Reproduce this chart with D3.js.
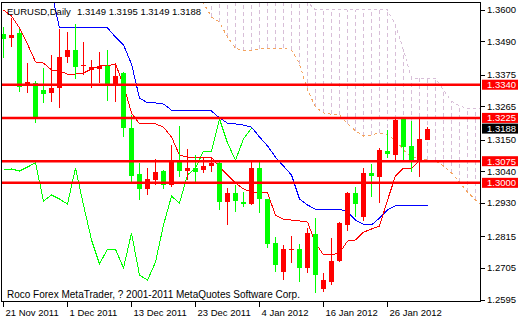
<!DOCTYPE html>
<html>
<head>
<meta charset="utf-8">
<script src="https://cdn.jsdelivr.net/npm/d3@7"></script>
<style>
  body { margin: 0; background: #fff; }
  svg { display: block; font-family: "Liberation Sans", Arial, sans-serif; }
</style>
</head>
<body>
<svg id="chart" width="520" height="320"></svg>
<script>
// EURUSD daily bars, 21 Nov 2011 .. 27 Jan 2012 (index 0 = 21 Nov)
const opens  = [1.3516,1.3502,1.3519,1.3339,1.3346,1.3322,1.3311,1.3329,1.3436,1.3460,
                1.3405,1.3391,1.3394,1.3405,1.3342,1.3381,1.3190,1.3031,1.2979,1.3010,
                1.3041,1.2992,1.3076,1.3041,1.3051,1.3044,1.3058,1.3069,1.2933,1.2965,
                1.2933,1.2926,1.3051,1.2944,1.2791,1.2691,1.2767,1.2770,1.2705,1.2823,
                1.2632,1.2656,1.2729,1.2854,1.2965,1.2881,1.3034,1.3020,1.3110,1.3096,
                1.3225,1.3128,1.3079,1.3149];
const highs  = [1.3540,1.3571,1.3533,1.3415,1.3353,1.3398,1.3443,1.3533,1.3523,1.3550,
                1.3488,1.3426,1.3453,1.3460,1.3415,1.3384,1.3235,1.3069,1.3051,1.3083,
                1.3044,1.3131,1.3197,1.3117,1.3096,1.3086,1.3086,1.3072,1.2982,1.2992,
                1.2968,1.3076,1.3072,1.2944,1.2812,1.2784,1.2816,1.2788,1.2843,1.2878,
                1.2687,1.2809,1.2864,1.2968,1.2985,1.3051,1.3065,1.3121,1.3183,1.3221,
                1.3228,1.3214,1.3221,1.3195];
const lows   = [1.3433,1.3471,1.3315,1.3311,1.3207,1.3277,1.3280,1.3259,1.3415,1.3360,
                1.3374,1.3329,1.3346,1.3283,1.3280,1.3159,1.3003,1.2940,1.2958,1.2992,
                1.2979,1.2985,1.3020,1.3010,1.3003,1.3034,1.3037,1.2906,1.2854,1.2899,
                1.2916,1.2923,1.2895,1.2774,1.2691,1.2663,1.2722,1.2656,1.2687,1.2618,
                1.2622,1.2646,1.2725,1.2833,1.2881,1.2868,1.2951,1.2930,1.3086,1.3079,
                1.3072,1.3037,1.3020,1.3149];
const closes = [1.3498,1.3512,1.3332,1.3349,1.3228,1.3308,1.3329,1.3436,1.3460,1.3401,
                1.3408,1.3401,1.3405,1.3336,1.3370,1.3190,1.3024,1.2979,1.3013,1.3037,
                1.2992,1.3076,1.3041,1.3051,1.3037,1.3058,1.3069,1.2933,1.2965,1.2937,
                1.2926,1.3051,1.2944,1.2788,1.2715,1.2770,1.2770,1.2705,1.2826,1.2680,
                1.2663,1.2729,1.2861,1.2965,1.2926,1.3034,1.3024,1.3114,1.3100,1.3218,
                1.3124,1.3072,1.3152,1.3188];

// Ichimoku lines
const tenkan = [1.3599,1.3578,1.3537,1.3481,1.3419,1.3415,1.3391,1.3388,1.3377,1.3377,
                1.3381,1.3394,1.3405,1.3405,1.3412,1.3339,1.3242,1.3204,1.3204,1.3204,
                1.3193,1.3159,1.3096,1.3089,1.3089,1.3089,1.3089,1.3055,1.3027,1.2999,
                1.2979,1.2968,1.2965,1.2965,1.2888,1.2874,1.2871,1.2868,1.2864,1.2791,
                1.2750,1.2750,1.2757,1.2798,1.2802,1.2829,1.2840,1.2850,1.2940,1.3024,
                1.3051,1.3051,1.3076,1.3079];
const kijun  = [1.3661,1.3661,1.3661,1.3661,1.3661,1.3661,1.3661,1.3537,1.3537,1.3537,
                1.3537,1.3537,1.3537,1.3537,1.3505,1.3478,1.3412,1.3294,1.3277,1.3277,
                1.3273,1.3252,1.3249,1.3249,1.3249,1.3249,1.3249,1.3225,1.3207,1.3204,
                1.3200,1.3193,1.3159,1.3128,1.3089,1.3058,1.3027,1.2944,1.2923,1.2909,
                1.2909,1.2909,1.2909,1.2899,1.2871,1.2857,1.2854,1.2878,1.2906,1.2920,
                1.2923,1.2923,1.2923,1.2923];
const chikou = [1.3044,1.3048,1.3041,1.3055,1.3069,1.2937,1.2958,1.2944,1.2926,1.3051,
                1.2923,1.2802,1.2719,1.2770,1.2770,1.2705,1.2826,1.2680,1.2663,1.2725,
                1.2854,1.2954,1.2930,1.3027,1.3051,1.3110,1.3110,1.3221,1.3138,1.3079,
                1.3152,1.3190];
// cloud, starts at bar 24 and runs past the right edge
const cloud_start = 24;
const spanA = [1.3686,1.3623,1.3575,1.3557,1.3505,1.3467,1.3457,1.3457,1.3464,1.3467,
               1.3467,1.3467,1.3460,1.3412,1.3322,1.3263,1.3242,1.3238,1.3235,1.3204,
               1.3180,1.3162,1.3166,1.3173,1.3166,1.3148,1.3114,1.3089,1.3083,1.3079,
               1.3076,1.3058,1.3034,1.3003,1.2968,1.2940,1.2916];
const spanB = [1.3700,1.3700,1.3700,1.3700,1.3700,1.3700,1.3700,1.3700,1.3700,1.3700,
               1.3700,1.3700,1.3700,1.3668,1.3627,1.3599,1.3599,1.3599,1.3599,1.3599,
               1.3599,1.3599,1.3599,1.3599,1.3599,1.3547,1.3460,1.3363,1.3363,1.3363,
               1.3363,1.3322,1.3283,1.3266,1.3259,1.3259,1.3259];

const levels = [1.3340, 1.3225, 1.3075, 1.3000];
const last_price = 1.3188;
const y_ticks = [1.3600, 1.3490, 1.3375, 1.3265, 1.3150, 1.3040, 1.2930, 1.2815, 1.2705, 1.2595];
const date_ticks = [0, 8, 16, 24, 32, 40, 48];
const date_labels = ["21 Nov 2011", "1 Dec 2011", "13 Dec 2011", "23 Dec 2011",
                     "4 Jan 2012", "16 Jan 2012", "26 Jan 2012"];

const svg = d3.select("#chart");
const plot_l = 2, plot_t = 3, plot_r = 481, plot_b = 302;

const x = d3.scaleLinear().domain([0, 60]).range([3.5, 483.5]);
const y = d3.scaleLinear().domain([1.2595, 1.3600]).range([299.7, 9.7]);

svg.append("defs").append("clipPath").attr("id", "plot")
  .append("rect").attr("x", plot_l).attr("y", plot_t)
  .attr("width", plot_r - plot_l).attr("height", plot_b - plot_t);

const plot = svg.append("g").attr("clip-path", "url(#plot)");

// cloud hatch
const cloud_idx = d3.range(spanA.length);
plot.append("g").selectAll("line")
  .data(cloud_idx).enter().append("line")
  .attr("x1", (d) => x(d + cloud_start)).attr("x2", (d) => x(d + cloud_start))
  .attr("y1", (d) => y(spanA[d])).attr("y2", (d) => y(spanB[d]))
  .attr("stroke", "#d8bfd8").attr("stroke-dasharray", "4,3")
  .attr("shape-rendering", "crispEdges");

const cloud_line = d3.line().x((d, i) => x(i + cloud_start)).y((d) => y(d));
plot.append("path").attr("d", cloud_line(spanB))
  .attr("fill", "none").attr("stroke", "#d8bfd8").attr("stroke-dasharray", "3,3")
  .attr("shape-rendering", "crispEdges");
plot.append("path").attr("d", cloud_line(spanA))
  .attr("fill", "none").attr("stroke", "#f4a460").attr("stroke-dasharray", "3,3")
  .attr("shape-rendering", "crispEdges");

const line = d3.line().x((d, i) => x(i)).y((d) => y(d));
const ind = plot.append("g").attr("fill", "none").attr("shape-rendering", "crispEdges");
ind.append("path").attr("d", line(chikou)).attr("stroke", "#00ff00");
ind.append("path").attr("d", line(kijun)).attr("stroke", "#0000ff");
ind.append("path").attr("d", line(tenkan)).attr("stroke", "#ff0000");

// candles: up bars red, down bars green
const bars = d3.range(opens.length);
const colour = (i) => closes[i] >= opens[i] ? "#ff0000" : "#00ff00";
const candles = plot.append("g").attr("shape-rendering", "crispEdges");
candles.selectAll("line")
  .data(bars).enter().append("line")
  .attr("x1", (i) => x(i)).attr("x2", (i) => x(i))
  .attr("y1", (i) => y(highs[i])).attr("y2", (i) => y(lows[i]))
  .attr("stroke", colour);
candles.selectAll("rect")
  .data(bars).enter().append("rect")
  .attr("x", (i) => x(i) - 2.5).attr("width", 5)
  .attr("y", (i) => y(Math.max(opens[i], closes[i])))
  .attr("height", (i) => Math.max(1, Math.abs(y(opens[i]) - y(closes[i]))))
  .attr("fill", colour);

// horizontal levels
plot.append("g").selectAll("line")
  .data(levels).enter().append("line")
  .attr("x1", plot_l).attr("x2", plot_r)
  .attr("y1", (d) => y(d)).attr("y2", (d) => y(d))
  .attr("stroke", "#ff0000").attr("stroke-width", 2.5);

// frame
svg.append("rect").attr("x", plot_l - 0.5).attr("y", plot_t - 0.5)
  .attr("width", plot_r - plot_l).attr("height", plot_b - plot_t)
  .attr("fill", "none").attr("stroke", "#000");

// price axis
const y_axis = svg.append("g");
y_axis.selectAll("line")
  .data(y_ticks).enter().append("line")
  .attr("x1", plot_r).attr("x2", plot_r + 4)
  .attr("y1", (d) => Math.round(y(d)) + 0.5).attr("y2", (d) => Math.round(y(d)) + 0.5)
  .attr("stroke", "#000");
y_axis.selectAll("text")
  .data(y_ticks).enter().append("text")
  .text((d) => d.toFixed(4))
  .attr("x", 487).attr("y", (d) => y(d)).attr("dy", "0.35em")
  .attr("font-size", "9.5px").attr("fill", "#000");

// level and price tags
const tags = levels.map((d) => ({v: d, bg: "#ff0000"})).concat([{v: last_price, bg: "#000"}]);
const tag = svg.append("g").selectAll("g").data(tags).enter().append("g");
tag.append("rect")
  .attr("x", 482).attr("width", 36).attr("height", 10)
  .attr("y", (d) => y(d.v) - 5).attr("fill", (d) => d.bg);
tag.append("text")
  .text((d) => d.v.toFixed(4))
  .attr("x", 487).attr("y", (d) => y(d.v)).attr("dy", "0.35em")
  .attr("font-size", "9.5px").attr("fill", "#fff");

// date axis
const x_axis = svg.append("g");
x_axis.selectAll("line")
  .data(date_ticks).enter().append("line")
  .attr("x1", (d) => x(d)).attr("x2", (d) => x(d))
  .attr("y1", plot_b).attr("y2", plot_b + 5)
  .attr("stroke", "#000");
x_axis.selectAll("text")
  .data(date_ticks).enter().append("text")
  .text((d, i) => date_labels[i])
  .attr("x", (d) => x(d) + 2).attr("y", 316)
  .attr("font-size", "9.5px").attr("fill", "#000");

// header and footer
svg.append("text").attr("x", 7).attr("y", 15).attr("font-size", "9.5px")
  .text("EURUSD,Daily");
svg.append("text").attr("x", 77).attr("y", 15).attr("font-size", "9.5px")
  .text([opens[53], highs[53], lows[53], closes[53]].map((d) => d.toFixed(4)).join(" "));
svg.append("text").attr("x", 7).attr("y", 298).attr("font-size", "10px")
  .text("Roco Forex MetaTrader, ? 2001-2011 MetaQuotes Software Corp.");
</script>
</body>
</html>
